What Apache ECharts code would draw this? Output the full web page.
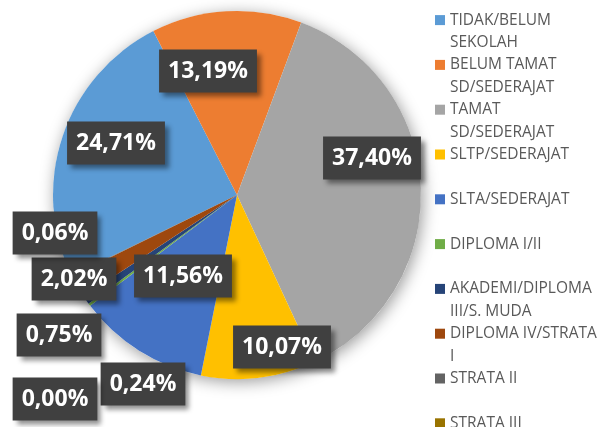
<!DOCTYPE html>
<html>
<head>
<meta charset="UTF-8">
<title>Pendidikan</title>
<style>
  html, body { margin: 0; padding: 0; background: #fff; }
</style>
</head>
<body>
<div id="chart" style="width: 614px;height: 427px"></div>
<script src="https://cdn.jsdelivr.net/npm/echarts@6/dist/echarts.min.js"></script>
<script>
// kategori pendidikan dan persentase
var categories = ['TIDAK/BELUM SEKOLAH', 'BELUM TAMAT SD/SEDERAJAT', 'TAMAT SD/SEDERAJAT',
    'SLTP/SEDERAJAT', 'SLTA/SEDERAJAT', 'DIPLOMA I/II', 'AKADEMI/DIPLOMA III/S. MUDA',
    'DIPLOMA IV/STRATA I', 'STRATA II', 'STRATA III'];
var percents = [24.71, 13.19, 37.40, 10.07, 11.56, 0.24, 0.75, 2.02, 0.06, 0.00];
// teks legenda dipotong seperti di gambar
var legendLines = ['TIDAK/BELUM\nSEKOLAH', 'BELUM TAMAT\nSD/SEDERAJAT', 'TAMAT\nSD/SEDERAJAT',
    'SLTP/SEDERAJAT\n', 'SLTA/SEDERAJAT\n', 'DIPLOMA I/II\n', 'AKADEMI/DIPLOMA\nIII/S. MUDA',
    'DIPLOMA IV/STRATA\nI', 'STRATA II\n', 'STRATA III\n'];

var colors = ['#5B9BD5', '#ED7D31', '#A5A5A5', '#FFC000', '#4472C4',
    '#70AD47', '#264478', '#9E480E', '#636363', '#997300'];
// posisi kotak label (diatur manual seperti di Excel)
var labelPos = [[116, 143], [208, 71], [372, 158], [282, 347], [183, 276],
    [143, 384], [59, 335], [74, 279], [55, 233], [55, 399]];

var chart = echarts.init(document.getElementById('chart'));

var pieData = categories.map(function (c, i) {
    return {name: c, value: percents[i]};
});
var total = percents.reduce(function (a, b) { return a + b; }, 0);

var option = {
    backgroundColor: '#fff',
    color: colors,
    animation: false,
    legend: {
        orient: 'vertical',
        left: 430,
        top: -18.5,
        height: 600,
        itemWidth: 10,
        itemHeight: 10,
        itemGap: -22.4,
        icon: 'rect',
        data: categories,
        formatter: function (name) {
            // baris kosong di atas supaya ikon sejajar baris pertama
            return '\n' + legendLines[categories.indexOf(name)];
        },
        textStyle: {
            fontFamily: 'Open Sans',
            fontSize: 15.5,
            color: '#595959',
            lineHeight: 22.4
        }
    },
    series: [
        {
            // bayangan lembut di bawah pie
            type: 'pie',
            silent: true,
            center: [237, 195],
            radius: 184,
            label: {show: false},
            labelLine: {show: false},
            itemStyle: {
                color: '#fff',
                shadowBlur: 16,
                shadowColor: 'rgba(0,0,0,0.4)',
                shadowOffsetX: 2,
                shadowOffsetY: 3
            },
            data: [{name: '', value: total}]
        },
        {
            type: 'pie',
            center: [237, 195],
            radius: 184,
            startAngle: 206,
            clockwise: true,
            avoidLabelOverlap: false,
            minAngle: 0,
            itemStyle: {borderWidth: 0},
            data: pieData,
            label: {
                show: true,
                position: 'inside',
                formatter: function (p) {
                    return p.value.toFixed(2).replace('.', ',') + '%';
                },
                color: '#fff',
                fontFamily: 'Open Sans',
                fontWeight: 'bold',
                fontSize: 23,
                lineHeight: 29,
                backgroundColor: '#404040',
                padding: [7, 9, 7, 9],
                shadowBlur: 5,
                shadowColor: 'rgba(0,0,0,0.45)',
                shadowOffsetX: 4,
                shadowOffsetY: 4
            },
            labelLine: {show: false},
            labelLayout: function (params) {
                var pos = labelPos[params.dataIndex];
                return {
                    x: pos[0],
                    y: pos[1],
                    align: 'center',
                    verticalAlign: 'middle'
                };
            }
        }
    ]
};

chart.setOption(option);
</script>
</body>
</html>
